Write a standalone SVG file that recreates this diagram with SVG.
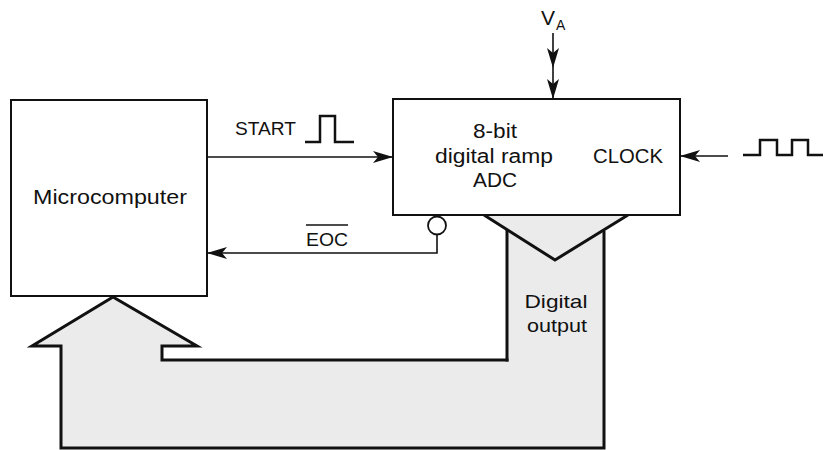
<svg xmlns="http://www.w3.org/2000/svg" width="825" height="450" viewBox="0 0 825 450">
<style>
text{font-family:"Liberation Sans",Arial,sans-serif;fill:#111}
.box{fill:#fff;stroke:#111;stroke-width:2}
.ln{fill:none;stroke:#111;stroke-width:1.6}
.bus{fill:none;stroke:#111;stroke-width:3;stroke-linejoin:miter}
.wave{fill:none;stroke:#111;stroke-width:2.5}
</style>
<defs>
<marker id="ah" viewBox="0 0 20 12" refX="20" refY="6" markerWidth="20" markerHeight="12" markerUnits="userSpaceOnUse" orient="auto">
<path d="M0,0 L20,6 L0,12 L5,6 Z" fill="#111"/>
</marker>
</defs>
<rect width="825" height="450" fill="#fff"/>

<g id="digital-output-bus">
<polygon points="484,215 628,215 604,231 604,448 61,448 61,346 32,346 113,297 197,346 162,346 162,360 507,360 507,230" fill="#ebebeb"/>
<polyline class="bus" points="484,215 555,260 628,215"/>
<line class="bus" x1="507" y1="230" x2="507" y2="361.5"/>
<polyline class="bus" points="604,231 604,448 61,448 61,346 32,346 113,297 197,346 162,346 162,360 508.5,360"/>
<text x="556" y="308" font-size="19" text-anchor="middle" textLength="63" lengthAdjust="spacingAndGlyphs">Digital</text>
<text x="557" y="332" font-size="19" text-anchor="middle" textLength="60" lengthAdjust="spacingAndGlyphs">output</text>
</g>

<g id="microcomputer">
<rect class="box" x="11" y="100" width="196" height="196"/>
<text x="110" y="204" font-size="20" text-anchor="middle" textLength="154" lengthAdjust="spacingAndGlyphs">Microcomputer</text>
</g>

<g id="adc">
<rect class="box" x="393" y="99" width="287" height="116"/>
<text x="495" y="138" font-size="20" text-anchor="middle" textLength="44" lengthAdjust="spacingAndGlyphs">8-bit</text>
<text x="494" y="163" font-size="20" text-anchor="middle" textLength="118" lengthAdjust="spacingAndGlyphs">digital ramp</text>
<text x="495" y="187" font-size="20" text-anchor="middle" textLength="44" lengthAdjust="spacingAndGlyphs">ADC</text>
<text x="628" y="163" font-size="20" text-anchor="middle" textLength="70" lengthAdjust="spacingAndGlyphs">CLOCK</text>
</g>

<g id="va-input">
<text x="541" y="25" font-size="21">V</text>
<text x="556" y="30" font-size="14">A</text>
</g>

<g id="start-label">
<text x="235" y="135" font-size="19" textLength="61" lengthAdjust="spacingAndGlyphs">START</text>
<path class="wave" d="M305,142 H320 V116 H335 V142 H354"/>
</g>

<g id="eoc-label">
<text x="306" y="246" font-size="19" textLength="42" lengthAdjust="spacingAndGlyphs">EOC</text>
<line x1="306" y1="225" x2="348" y2="225" stroke="#111" stroke-width="1.5"/>
</g>

<g id="clock-input">
<path class="wave" d="M743,155 H760 V140 H777 V155 H792 V140 H808 V155 H823"/>
</g>

<g id="connectors">
<line class="ln" x1="207" y1="157" x2="393" y2="157" marker-end="url(#ah)"/>
<line class="ln" x1="728" y1="156" x2="680" y2="156" marker-end="url(#ah)"/>
<line class="ln" x1="553" y1="33" x2="553" y2="68" marker-end="url(#ah)"/>
<line class="ln" x1="553" y1="68" x2="553" y2="99" marker-end="url(#ah)"/>
<circle cx="437" cy="225.5" r="9" fill="#fff" stroke="#111" stroke-width="1.8"/>
<polyline class="ln" points="437,234.5 437,253 207,253" marker-end="url(#ah)"/>
</g>
</svg>
